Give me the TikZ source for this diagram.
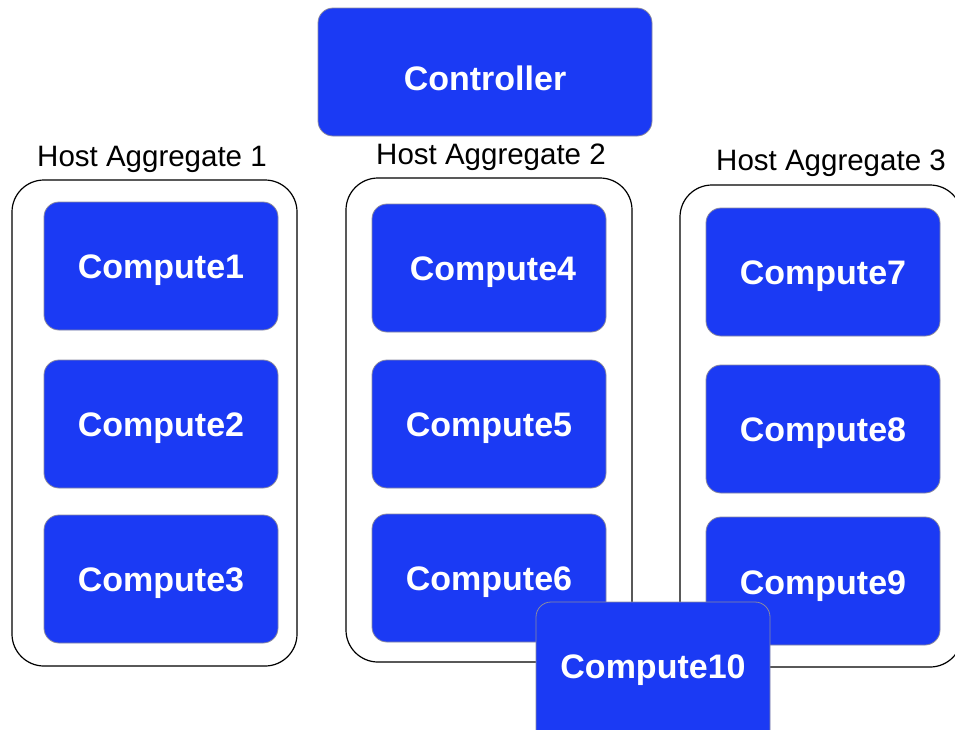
\documentclass[tikz,border=0pt]{standalone}
\usepackage{fontspec}
\setmainfont{Liberation Sans}
\definecolor{nodeblue}{HTML}{1B3AF4}
\definecolor{nodeedge}{HTML}{8A8AA0}
\tikzset{
  bluebox/.style={fill=nodeblue, draw=nodeedge, line width=0.8pt, rounded corners=15pt},
  boxtext/.style={text=white, font=\fontsize{34}{34}\selectfont\bfseries},
  groupbox/.style={draw=black, line width=1.2pt, rounded corners=32pt, fill=white},
  grouplabel/.style={font=\fontsize{29.5}{29.5}\selectfont, text=black, inner sep=0pt}
}
\begin{document}
\begin{tikzpicture}[x=1pt,y=-1pt]
\useasboundingbox (0,0) rectangle (955,729);
% controller
\path[bluebox] (318,8) rectangle (652,136);
\node[boxtext] (ctrl) at (485,78) {Controller};
% groups
\path[groupbox] (12,180) rectangle (297,666);
\path[groupbox] (346,178) rectangle (632,662);
\path[groupbox] (680,185) rectangle (962,667);
\node[grouplabel] (l1) at (152,159) {Host Aggregate 1};
\node[grouplabel] (l2) at (491,157) {Host Aggregate 2};
\node[grouplabel] (l3) at (831,163) {Host Aggregate 3};
% computes
\foreach \x/\y in {44/202, 44/360, 44/515, 372/204, 372/360, 372/514, 706/208, 706/365, 706/517}{
  \path[bluebox] (\x,\y) rectangle ++(234,128);
}
\node[boxtext] (c1) at (161,270) {Compute1};
\node[boxtext] (c2) at (161,428) {Compute2};
\node[boxtext] (c3) at (161,583) {Compute3};
\node[boxtext] (c4) at (493,272) {Compute4};
\node[boxtext] (c5) at (489,428) {Compute5};
\node[boxtext] (c6) at (489,582) {Compute6};
\node[boxtext] (c7) at (823,276) {Compute7};
\node[boxtext] (c8) at (823,433) {Compute8};
\node[boxtext] (c9) at (823,586) {Compute9};
% compute10
\path[bluebox] (536,602) rectangle (770,745);
\node[boxtext] (c10) at (653,670) {Compute10};
\end{tikzpicture}
\end{document}
